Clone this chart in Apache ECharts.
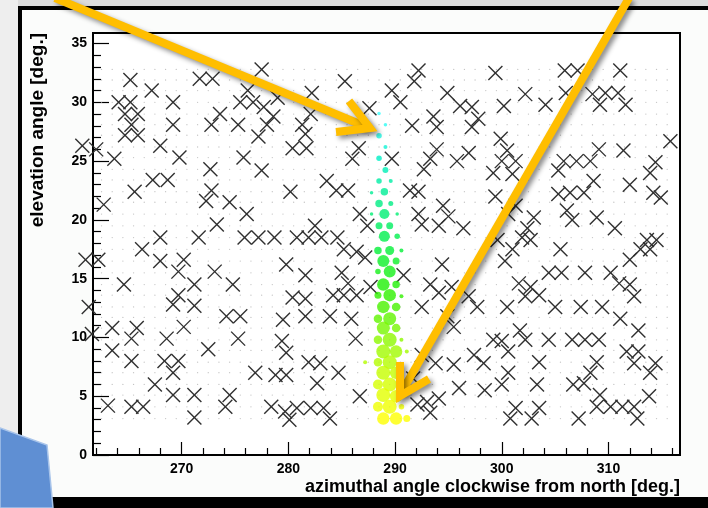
<!DOCTYPE html>
<html>
<head>
<meta charset="utf-8">
<script src="https://cdn.jsdelivr.net/npm/echarts@6.0.0/dist/echarts.min.js"></script>
<style>html,body{margin:0;padding:0;background:#fbfcfb;}#c{width:708px;height:508px;}</style>
</head>
<body>
<div id="c"></div>
<script>
// ---- data ----
const xMajorTicks = [270, 280, 290, 300, 310];
const xMinorTicks = [262, 264, 266, 268, 272, 274, 276, 278, 282, 284, 286, 288, 292, 294, 296, 298, 302, 304, 306, 308, 312, 314, 316];
const yMajorTicks = [0, 5, 10, 15, 20, 25, 30, 35];
const yMinorTicks = [1, 2, 3, 4, 6, 7, 8, 9, 11, 12, 13, 14, 16, 17, 18, 19, 21, 22, 23, 24, 26, 27, 28, 29, 31, 32, 33, 34];

// faint sky-grid points (azimuth columns x elevation rows)
const gridAz = [262.5, 263.5, 264.5, 265.5, 266.5, 267.5, 268.5, 269.5, 270.5, 271.5, 272.5, 273.5, 274.5, 275.5, 276.5, 277.5, 278.5, 279.5, 280.5, 281.5, 282.5, 283.5, 284.5, 285.5, 286.5, 287.5, 288.5, 289.5, 290.5, 291.5, 292.5, 293.5, 294.5, 295.5, 296.5, 297.5, 298.5, 299.5, 300.5, 301.5, 302.5, 303.5, 304.5, 305.5, 306.5, 307.5, 308.5, 309.5, 310.5, 311.5, 312.5, 313.5, 314.5, 315.5];
const gridEl = [3.1, 4.1, 5.1, 6.0, 7.0, 7.9, 8.9, 9.8, 10.8, 11.7, 12.6, 13.6, 14.5, 15.5, 16.5, 17.5, 18.5, 19.5, 20.5, 21.5, 22.4, 23.4, 24.3, 25.3, 26.2, 27.2, 28.1, 29.0, 30.0, 31.0, 31.9, 32.8];

// X markers [azimuth, elevation]
const crosses = [
[265.2,31.9],[267.2,31.0],[264.1,30.0],[265.2,30.0],[264.7,29.0],[265.9,29.0],[265.3,28.1],[264.7,27.2],[265.9,27.2],[269.2,30.0],[269.2,28.1],[271.7,32.0],[272.9,32.0],[273.6,29.0],[272.8,28.1],[277.5,32.8],[276.2,31.0],[275.5,30.0],[276.7,30.0],[277.7,29.6],[278.6,28.8],[275.3,28.1],[278.0,28.1],[277.2,27.1],[279.0,30.4],[268.0,26.3],[262.0,26.0],[280.4,26.1],[263.7,25.2],[269.8,25.3],[275.8,25.3],[272.7,24.3],[277.5,24.2],[267.3,23.4],[268.7,23.4],[265.6,22.4],[272.8,22.5],[272.3,21.6],[280.2,22.4],[262.7,21.3],[274.5,21.5],[276.1,20.5],[273.3,19.6],[268.0,18.5],[271.6,18.5],[275.9,18.5],[277.2,18.5],[278.7,18.5],
[260.7,26.3],
[285.3,31.8],[292.2,32.7],[291.8,31.8],[289.7,31.0],[290.5,30.0],[282.2,30.8],[294.9,30.8],[296.1,29.7],[297.2,29.6],[297.8,28.6],[297.2,27.9],[287.6,29.5],[282.1,29.0],[281.3,28.1],[281.6,27.3],[291.6,28.0],[293.6,28.8],[293.9,27.9],[281.7,26.1],[286.6,26.1],[286.0,25.2],[289.7,25.2],[293.9,26.0],[293.3,25.2],[292.7,24.3],[295.8,25.0],[296.9,25.7],[283.6,23.3],[284.5,22.5],[285.6,22.5],[291.4,22.5],[292.2,22.4],[294.5,21.2],[295.0,20.3],[292.2,20.5],[292.5,19.6],[286.7,20.5],[287.4,19.5],[294.1,19.5],[296.4,19.3],[282.5,19.5],[281.9,18.5],[283.1,18.5],[280.8,18.5],[284.6,18.5],
[299.4,32.5],[305.9,32.7],[307.1,32.7],[311.1,32.7],[302.2,30.7],[300.2,29.7],[304.1,29.8],[306.0,30.8],[308.5,30.7],[309.2,29.8],[309.7,30.8],[310.9,30.8],[311.6,29.8],[315.8,26.7],[299.9,26.9],[300.5,25.9],[301.3,25.0],[300.0,25.0],[299.2,24.0],[301.0,23.9],[309.1,26.0],[311.4,25.9],[305.8,25.0],[307.0,25.0],[308.3,25.0],[305.3,24.2],[314.4,24.9],[313.9,24.0],[308.6,23.3],[312.0,23.0],[305.3,22.2],[306.4,22.3],[307.7,22.3],[314.2,22.3],[314.9,21.9],[299.4,22.0],[300.6,20.5],[301.3,21.2],[303.0,20.2],[302.4,19.3],[306.1,20.8],[306.6,20.0],[308.9,20.2],[310.6,19.3],[313.6,18.3],[314.5,18.3],[301.9,18.5],[302.7,18.3],[299.6,18.3],
[266.3,17.5],[262.2,16.6],[261.0,16.6],[268.0,16.5],[270.2,16.6],[269.7,15.6],[273.1,15.6],[264.6,14.5],[271.2,14.5],[274.8,14.5],[269.7,13.6],[269.2,12.8],[271.2,12.7],[274.2,11.8],[275.5,11.8],[263.5,10.8],[265.8,10.8],[270.2,10.9],[261.6,10.3],[265.3,9.9],[268.6,9.9],[275.3,9.9],[263.5,8.9],[272.5,9.0],[265.3,8.0],[268.4,8.0],[269.7,8.0],[269.2,7.0],[276.9,7.0],[278.8,6.8],[279.8,6.8],[267.5,6.0],[269.2,5.1],[271.2,5.1],[274.5,5.1],[263.1,4.2],[265.3,4.1],[266.4,4.1],[274.1,4.1],[271.2,3.2],[278.4,4.1],[279.7,3.7],[280.1,3.0],[279.8,16.2],[280.4,13.4],[279.5,11.5],[279.4,9.7],[279.8,8.7],[261.3,12.6],
[285.2,17.5],[286.4,17.3],[287.2,16.8],[281.6,15.3],[285.0,15.5],[285.6,14.6],[286.4,13.6],[285.2,13.6],[284.2,13.6],[287.7,14.3],[281.6,13.3],[283.9,11.8],[285.9,11.6],[281.6,11.8],[286.3,9.9],[281.9,7.9],[283.0,7.8],[284.7,7.0],[282.7,6.1],[286.7,5.0],[280.8,4.0],[282.1,4.0],[283.3,4.0],[283.9,3.1],[290.8,15.3],[294.4,16.2],[293.3,14.5],[294.1,13.8],[295.3,14.3],[292.5,12.6],[294.9,11.8],[295.5,10.9],[296.9,13.5],[297.7,12.6],[297.4,8.5],[298.3,7.8],[292.5,8.5],[293.8,7.8],[295.5,7.7],[296.0,5.7],[292.1,4.3],[293.0,4.5],[294.1,4.8],[293.3,3.6],[298.4,5.5],[291.7,6.5],
[301.0,17.5],[300.3,16.5],[305.5,17.5],[312.0,16.6],[313.0,17.5],[313.9,17.5],[304.4,15.5],[305.6,15.5],[307.8,15.5],[310.2,15.5],[311.0,14.6],[312.0,14.5],[312.4,13.5],[301.6,14.6],[302.7,14.3],[303.5,13.6],[302.2,13.5],[300.5,12.6],[305.0,12.6],[307.4,12.6],[309.4,12.6],[311.1,11.6],[312.8,10.6],[301.7,10.6],[302.2,9.8],[299.2,9.8],[300.0,9.7],[300.6,8.8],[304.4,9.8],[306.6,9.8],[307.8,9.8],[309.1,9.8],[311.7,8.8],[312.8,8.8],[312.4,7.8],[314.4,7.8],[313.9,7.0],[303.5,7.9],[308.9,7.9],[308.3,7.0],[300.6,7.0],[300.0,6.0],[303.3,6.0],[306.7,6.0],[307.7,6.1],[309.2,5.1],[308.9,4.1],[310.2,4.1],[311.3,4.1],[312.4,4.1],[312.7,3.1],[313.8,5.0],[301.3,4.0],[300.8,3.1],[303.5,4.0],[302.8,3.1],[307.2,3.1]
];

// coloured track points: azimuth, elevation, weight (marker diameter)
const trackAz = [288.5,289.1,288.5,289.1,288.5,289.1,288.5,289.6,289.0,287.8,288.5,289.6,289.0,287.8,290.2,288.5,289.5,289.0,290.2,
  288.4,289.5,290.6,288.9,290.1,289.5,288.4,288.9,290.1,288.4,289.5,290.6,288.9,290.1,288.4,289.5,288.9,290.1,288.4,289.5,290.6,288.9,290.1,291.1,288.4,289.5,287.2,288.9,290.1,288.4,289.5,288.9,290.1,288.4,289.5,290.6,288.9,290.1,291.1];
const trackEl = [29.05,28.1,27.15,26.2,25.25,24.25,23.3,23.3,22.4,22.3,21.4,21.4,20.5,20.5,20.5,19.5,19.5,18.6,18.6,
  17.4,17.4,17.4,16.5,16.5,15.6,15.6,14.5,14.5,13.6,13.6,13.5,12.6,12.6,11.6,11.6,10.8,10.8,9.8,9.8,9.8,8.8,8.8,8.8,7.9,7.9,7.9,7.0,7.0,6.0,6.0,5.1,5.0,4.1,4.1,4.1,3.1,3.1,3.1];
const trackW = [3.5,3.5,5.5,4,5.5,6,5.5,4,7.5,3.5,7.5,5,10,3.5,3.5,7,7,11,5.5,
  7.5,9,4,12,7,12,5.5,12.5,7.5,7,12.5,4,12.5,8.5,8.5,13,13,8.5,8.5,14,4,14,12.5,4,8.5,14,4,14,12.5,10,14,14,12.5,10,14,5.5,12.5,12.5,7];

const xTitle = 'azimuthal angle clockwise from north [deg.]';
const yTitle = 'elevation angle [deg.]';

// ---- build ----
const gridPts = [];
gridAz.forEach(a => gridEl.forEach(e => gridPts.push([a, e])));
const trackPts = trackAz.map((a, i) => [a, trackEl[i], trackW[i]]);

const FONT = '"Liberation Sans", Arial, Helvetica, sans-serif';
const chart = echarts.init(document.getElementById('c'), null, {renderer: 'canvas'});

const orange = '#FFBE00';
const arrowStyle = {stroke: orange, lineWidth: 8, fill: null, lineJoin: 'miter', lineCap: 'butt',
  shadowBlur: 5, shadowColor: 'rgba(0,0,0,0.45)', shadowOffsetX: 3, shadowOffsetY: 3};

chart.setOption({
  animation: false,
  backgroundColor: '#fbfcfb',
  grid: {left: 93, right: 28, top: 33, bottom: 53, show: true, borderColor: '#000', borderWidth: 2, backgroundColor: '#ffffff'},
  xAxis: [{
    type: 'value', min: 261.7, max: 316.7, position: 'bottom',
    axisLine: {show: true, lineStyle: {color: '#000', width: 2}},
    axisTick: {show: true, inside: true, length: 13, customValues: xMajorTicks, lineStyle: {color: '#000', width: 1.2}},
    axisLabel: {customValues: xMajorTicks, margin: 7, fontSize: 14, fontWeight: 'bold', color: '#000', fontFamily: FONT},
    splitLine: {show: false}
  }, {
    type: 'value', min: 261.7, max: 316.7, position: 'bottom',
    axisLine: {show: false},
    axisTick: {show: true, inside: true, length: 7, customValues: xMinorTicks, lineStyle: {color: '#000', width: 1.2}},
    axisLabel: {show: false}, splitLine: {show: false}
  }],
  yAxis: [{
    type: 'value', min: 0, max: 35.9, position: 'left',
    axisLine: {show: true, lineStyle: {color: '#000', width: 2}},
    axisTick: {show: true, inside: true, length: 16, customValues: yMajorTicks, lineStyle: {color: '#000', width: 1.2}},
    axisLabel: {customValues: yMajorTicks, margin: 6, fontSize: 14, fontWeight: 'bold', color: '#000', fontFamily: FONT},
    splitLine: {show: false}
  }, {
    type: 'value', min: 0, max: 35.9, position: 'left',
    axisLine: {show: false},
    axisTick: {show: true, inside: true, length: 8, customValues: yMinorTicks, lineStyle: {color: '#000', width: 1.2}},
    axisLabel: {show: false}, splitLine: {show: false}
  }],
  visualMap: {
    show: false, seriesIndex: 2, dimension: 1, min: 3, max: 29,
    inRange: {color: ['#ffff00', '#ccff00', '#80f800', '#22f000', '#00f040', '#00ee88', '#00f0c8', '#40ffff']}
  },
  series: [{
    type: 'scatter', silent: true, xAxisIndex: 0, yAxisIndex: 0,
    data: gridPts, symbol: 'circle', symbolSize: 1.3,
    itemStyle: {color: '#b4b4b4'}, z: 1
  }, {
    type: 'custom', silent: true, xAxisIndex: 0, yAxisIndex: 0,
    data: crosses, z: 2,
    renderItem: function (params, api) {
      const p = api.coord([api.value(0), api.value(1)]);
      const h = 7;
      const st = {stroke: '#303030', lineWidth: 1.4};
      return {type: 'group', children: [
        {type: 'line', shape: {x1: p[0] - h, y1: p[1] - h, x2: p[0] + h, y2: p[1] + h}, style: st},
        {type: 'line', shape: {x1: p[0] - h, y1: p[1] + h, x2: p[0] + h, y2: p[1] - h}, style: st}
      ]};
    }
  }, {
    type: 'scatter', silent: true, xAxisIndex: 0, yAxisIndex: 0,
    data: trackPts, symbol: 'circle', z: 3,
    symbolSize: function (v) { return v[2]; }
  }],
  graphic: [
    {type: 'rect', z: -100, shape: {x: 0, y: 0, width: 708, height: 7}, style: {fill: '#dcdcdc'}},
    {type: 'rect', z: -100, shape: {x: 0, y: 0, width: 18, height: 508}, style: {fill: '#eeeeee'}},
    {type: 'rect', z: -99, shape: {x: 18, y: 6, width: 690, height: 4}, style: {fill: '#000'}},
    {type: 'rect', z: -99, shape: {x: 18, y: 6, width: 4, height: 502}, style: {fill: '#000'}},
    {type: 'rect', z: -99, shape: {x: 0, y: 497, width: 708, height: 11}, style: {fill: '#000'}},
    {type: 'polygon', z: 50, shape: {points: [[0, 428], [47, 445], [53, 508], [0, 508]]}, style: {fill: '#5f8fd3', stroke: '#a8c4ea', lineWidth: 1.5}},
    {type: 'text', z: 50, x: 38, y: 33, rotation: Math.PI / 2,
      style: {text: yTitle, font: 'bold 19px ' + FONT, fill: '#000', textAlign: 'right', textVerticalAlign: 'middle'}},
    {type: 'text', z: 50, x: 680, y: 487,
      style: {text: xTitle, font: 'bold 18px ' + FONT, fill: '#000', textAlign: 'right', textVerticalAlign: 'middle'}},
    {type: 'polyline', z: 100, shape: {points: [[55, -2], [367, 127]]}, style: arrowStyle},
    {type: 'polyline', z: 100, shape: {points: [[349, 101], [370, 128], [336, 132]]}, style: arrowStyle},
    {type: 'polyline', z: 100, shape: {points: [[629, -2], [401, 393]]}, style: arrowStyle},
    {type: 'polyline', z: 100, shape: {points: [[429, 379], [400, 396], [400, 362]]}, style: arrowStyle}
  ]
});
</script>
</body>
</html>
